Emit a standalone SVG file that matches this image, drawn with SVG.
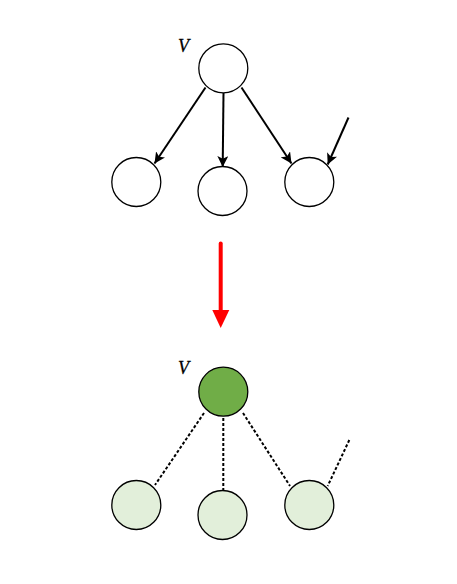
<svg xmlns="http://www.w3.org/2000/svg" width="457" height="584" viewBox="0 0 457 584">
<style>
.n{fill:#fff;stroke:#000;stroke-width:1.3}
.lg{fill:#E2EFDA;stroke:#000;stroke-width:1.3}
.dg{fill:#70AD47;stroke:#000;stroke-width:1.3}
.a{stroke:#000;stroke-width:2;fill:none;marker-end:url(#ah)}
.d{stroke:#000;stroke-width:2;fill:none;stroke-dasharray:3,2}
.lbl{font-family:"Liberation Serif",serif;font-style:italic;font-size:18px;fill:#000;stroke:#000;stroke-width:0.3}
</style>
<defs>
<marker id="ah" viewBox="0 0 10 10" refX="10" refY="5" markerWidth="5.5" markerHeight="5.5" orient="auto" markerUnits="strokeWidth">
<path d="M0,0 L10,5 L0,10 L2.5,5 Z" fill="#000"/>
</marker>
</defs>
<rect width="457" height="584" fill="#fff"/>
<g id="connectors">
<line class="a" x1="205.5" y1="87.5" x2="154.5" y2="163.5"/>
<line class="a" x1="223.5" y1="93" x2="222.7" y2="167"/>
<line class="a" x1="241.5" y1="87.5" x2="291.5" y2="163.5"/>
<line class="a" x1="348.5" y1="117.5" x2="327.7" y2="164.5"/>
<line class="d" x1="204" y1="413" x2="155" y2="485"/>
<line class="d" x1="223.3" y1="418" x2="223.3" y2="490"/>
<line class="d" x1="243" y1="413" x2="290" y2="486"/>
<line class="d" x1="349.3" y1="440" x2="327.7" y2="486"/>
<line x1="220.7" y1="243.5" x2="220.7" y2="312" stroke="#FF0000" stroke-width="4" stroke-linecap="round"/>
<polygon points="212.3,310 229.3,310 220.7,328" fill="#FF0000"/>
</g>
<g id="top-v"><circle class="n" cx="223.3" cy="68.3" r="24.5"/><text class="lbl" x="178" y="51.5">V</text></g>
<g id="top-c1"><circle class="n" cx="136.3" cy="182" r="24.5"/></g>
<g id="top-c2"><circle class="n" cx="222.5" cy="191" r="24.5"/></g>
<g id="top-c3"><circle class="n" cx="309.3" cy="182" r="24.5"/></g>
<g id="bot-v"><circle class="dg" cx="223.3" cy="391.7" r="24.5"/><text class="lbl" x="178" y="373.5">V</text></g>
<g id="bot-c1"><circle class="lg" cx="136.3" cy="505" r="24.5"/></g>
<g id="bot-c2"><circle class="lg" cx="222.5" cy="515" r="24.5"/></g>
<g id="bot-c3"><circle class="lg" cx="309.3" cy="505" r="24.5"/></g>
</svg>
